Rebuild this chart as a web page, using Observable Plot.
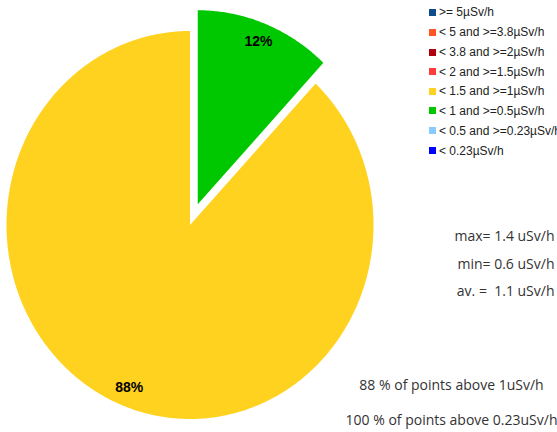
<!DOCTYPE html>
<html><head><meta charset="utf-8">
<script src="https://cdn.jsdelivr.net/npm/d3@7"></script>
<script src="https://cdn.jsdelivr.net/npm/@observablehq/plot@0.6"></script>
<style>
html,body{margin:0;padding:0;background:#fff;}
#wrap{position:relative;width:557px;height:432px;overflow:hidden;}
#legend{position:absolute;left:429px;top:0;font:12px "Liberation Sans",Arial,sans-serif;color:#222;}
.row{position:absolute;left:0;white-space:nowrap;height:14px;line-height:14px;}
.sw{position:absolute;left:0;top:3.5px;width:7px;height:7px;}
.lt{position:absolute;left:10px;top:0;}
</style>
</head><body>
<div id="wrap"><div id="chart"></div><div id="legend"></div></div>
<script>
// Legend categories and colours
const categories = [">= 5µSv/h", "< 5 and >=3.8µSv/h", "< 3.8 and >=2µSv/h", "< 2 and >=1.5µSv/h",
  "< 1.5 and >=1µSv/h", "< 1 and >=0.5µSv/h", "< 0.5 and >=0.23µSv/h", "< 0.23µSv/h"];
const categoryColors = ["#0d4b8a", "#ff5522", "#b00010", "#ff3c3c", "#ffd21f", "#00c800", "#88ccff", "#0000ff"];

// Pie slices (clockwise from top)
const sliceCategories = ["< 1 and >=0.5µSv/h", "< 1.5 and >=1µSv/h"];
const sliceValues = [12, 88];
const sliceExploded = [true, false];

// Statistics
const statNames = ["max", "min", "av."];
const statValues = [1.4, 0.6, 1.1];
const aboveThresholds = ["1", "0.23"];
const abovePercents = [88, 100];

const pie = d3.pie().sort(null).startAngle(0).endAngle(2 * Math.PI)(sliceValues);
const pts = [];
const labels = [];
pie.forEach((p, i) => {
  const mid = (p.startAngle + p.endAngle) / 2;
  const off = sliceExploded[i] ? 0.115 : 0;
  const cx = off * Math.sin(mid), cy = off * Math.cos(mid);
  const color = categoryColors[categories.indexOf(sliceCategories[i])];
  pts.push({slice: i, x: cx, y: cy, color});
  const n = Math.ceil((p.endAngle - p.startAngle) / (2 * Math.PI) * 720);
  for (let k = 0; k <= n; k++) {
    const a = p.startAngle + (p.endAngle - p.startAngle) * k / n;
    pts.push({slice: i, x: cx + Math.sin(a), y: cy + Math.cos(a), color});
  }
  pts.push({slice: i, x: cx, y: cy, color});
  labels.push({x: cx + 0.9 * Math.sin(mid), y: cy + 0.9 * Math.cos(mid), text: Math.round(p.value) + "%"});
});

const statText = statNames.map((n, i) => n === "av." ? `av. =\u00a0\u00a0${statValues[i]} uSv/h` : `${n}= ${statValues[i]} uSv/h`);
const statDy = [236, 264.5, 291];
const aboveText = abovePercents.map((p, i) => `${p} % of points above ${aboveThresholds[i]}uSv/h`);
const aboveDy = [385.5, 420];

const statFont = {fontFamily: "'Open Sans', sans-serif", fontSize: 14, fill: "#333"};

const chart = Plot.plot({
  width: 557, height: 432,
  margin: 0,
  x: {domain: [-1, 1], range: [6, 373], axis: null},
  y: {domain: [-1, 1], range: [418.5, 30.5], axis: null},
  color: {type: "identity"},
  marks: [
    Plot.line(pts, {x: "x", y: "y", z: "slice", fill: "color", stroke: "none", curve: "linear"}),
    Plot.text(labels, {x: "x", y: "y", text: "text", fontFamily: "'Liberation Sans', Arial, sans-serif", fontWeight: "bold", fontSize: 14, fill: "#000"}),
    ...statText.map((t, i) => Plot.text([t], {text: d => d, frameAnchor: "top-right", textAnchor: "end", lineAnchor: "middle", dx: -3, dy: statDy[i], ...statFont})),
    ...aboveText.map((t, i) => Plot.text([t], {text: d => d, frameAnchor: "top-left", textAnchor: "middle", lineAnchor: "middle", dx: 451, dy: aboveDy[i], ...statFont}))
  ]
});
document.getElementById("chart").appendChild(chart);

const legend = document.getElementById("legend");
const rowY = [12.3, 32.2, 52, 71.5, 91.2, 110.8, 130.5, 150.5];
categories.forEach((c, i) => {
  const row = document.createElement("div");
  row.className = "row";
  row.style.top = (rowY[i] - 7) + "px";
  const sw = document.createElement("span");
  sw.className = "sw";
  sw.style.background = categoryColors[i];
  const lt = document.createElement("span");
  lt.className = "lt";
  lt.textContent = c;
  row.appendChild(sw); row.appendChild(lt);
  legend.appendChild(row);
});
</script>
</body></html>
